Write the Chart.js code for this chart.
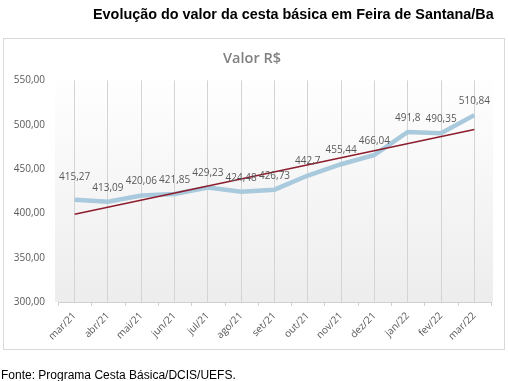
<!DOCTYPE html>
<html>
<head>
<meta charset="utf-8">
<script src="https://cdn.jsdelivr.net/npm/chart.js@4.4.1/dist/chart.umd.min.js"></script>
<style>
  html, body { margin: 0; padding: 0; background: #fff; }
  body { width: 508px; height: 381px; position: relative; overflow: hidden; }
  #title { position: absolute; left: 93px; top: 6px; font: bold 14.4px "Liberation Sans", Arial, sans-serif; color: #000; white-space: nowrap; }
  #box { position: absolute; left: 3px; top: 38px; width: 500px; height: 310px; border: 1px solid #d9d9d9; pointer-events: none; }
  #wrap { position: absolute; left: 0; top: 0; width: 508px; height: 381px; }
  #footer { position: absolute; left: 1px; top: 368px; font: 12px "Liberation Sans", Arial, sans-serif; color: #000; white-space: nowrap; }
</style>
</head>
<body>
<div id="wrap"><canvas id="c" width="508" height="381"></canvas></div>
<div id="box"></div>
<div id="title">Evolução do valor da cesta básica em Feira de Santana/Ba</div>
<div id="footer">Fonte: Programa Cesta Básica/DCIS/UEFS.</div>
<script>
const categories = ["mar/21","abr/21","mai/21","jun/21","jul/21","ago/21","set/21","out/21","nov/21","dez/21","jan/22","fev/22","mar/22"];
const values = [415.27, 413.09, 420.06, 421.85, 429.23, 424.48, 426.73, 442.7, 455.44, 466.04, 491.8, 490.35, 510.84];
const valueLabels = ["415,27","413,09","420,06","421,85","429,23","424,48","426,73","442,7","455,44","466,04","491,8","490,35","510,84"];
const trendEnds = [399.0, 494.6];
const yTicks = [300, 350, 400, 450, 500, 550];

const trendData = categories.map((c, i) => i === 0 ? trendEnds[0] : (i === categories.length - 1 ? trendEnds[1] : null));

const bgPlugin = {
  id: 'bg',
  beforeDraw(chart) {
    const ctx = chart.ctx, a = chart.chartArea;
    const g = ctx.createLinearGradient(0, a.top - 8, 0, a.bottom);
    g.addColorStop(0, '#ffffff');
    g.addColorStop(1, '#ededed');
    ctx.save();
    ctx.fillStyle = g;
    ctx.fillRect(a.left - 3, a.top - 8, a.right - a.left + 5, a.bottom - a.top + 8);
    ctx.restore();
  },
  afterDraw(chart) {
    const ctx = chart.ctx, a = chart.chartArea;
    const n = categories.length;
    ctx.save();
    ctx.strokeStyle = '#d0d0d0';
    ctx.lineWidth = 1;
    ctx.beginPath();
    for (let i = 0; i <= n; i++) {
      const x = Math.round(a.left + i * (a.right - a.left) / n) + 0.5;
      ctx.moveTo(x, a.bottom);
      ctx.lineTo(x, a.bottom + 4);
    }
    ctx.stroke();
    ctx.restore();
  }
};

const labelPlugin = {
  id: 'vlabels',
  afterDatasetsDraw(chart) {
    const ctx = chart.ctx;
    const meta = chart.getDatasetMeta(0);
    ctx.save();
    ctx.font = '10px "Open Sans", "Liberation Sans", sans-serif';
    ctx.fillStyle = '#595959';
    ctx.textAlign = 'center';
    ctx.textBaseline = 'middle';
    meta.data.forEach((p, i) => {
      const off = i === 0 ? 23 : 14;
      ctx.fillText(valueLabels[i], p.x, p.y - off);
    });
    ctx.restore();
  }
};

new Chart(document.getElementById('c'), {
  type: 'line',
  data: {
    labels: categories,
    datasets: [
      {
        data: values,
        borderColor: '#a9c9dc',
        borderWidth: 4.5,
        pointRadius: 0,
        tension: 0,
        fill: false,
        order: 2
      },
      {
        data: trendData,
        spanGaps: true,
        borderColor: '#8c1c2c',
        borderWidth: 1.3,
        pointRadius: 0,
        fill: false,
        order: 1
      }
    ]
  },
  options: {
    responsive: false,
    animation: false,
    devicePixelRatio: 1,
    layout: { padding: { left: 13, right: 17, top: 40, bottom: 0 } },
    plugins: {
      legend: { display: false },
      tooltip: { enabled: false },
      title: {
        display: true,
        text: 'Valor R$',
        color: '#808080',
        font: { family: '"Open Sans", sans-serif', size: 14.5, weight: '600' },
        padding: { top: 10, bottom: 13 }
      }
    },
    scales: {
      x: {
        offset: true,
        grid: { offset: false, color: '#d4d4d4', drawTicks: false },
        border: { display: true, color: '#d0d0d0' },
        ticks: {
          maxRotation: 45, minRotation: 45, padding: 8,
          color: '#595959',
          font: { family: '"Open Sans", sans-serif', size: 10 }
        },
        afterFit(s) { s.height = 79; }
      },
      y: {
        min: 300, max: 550,
        afterBuildTicks(s) { s.ticks = yTicks.map(v => ({ value: v })); },
        grid: { display: false, drawTicks: false },
        border: { display: false },
        ticks: {
          padding: 13,
          color: '#595959',
          font: { family: '"Open Sans", sans-serif', size: 10 },
          callback: v => v.toFixed(2).replace('.', ',')
        },
        afterFit(s) { s.width = 45; }
      }
    }
  },
  plugins: [bgPlugin, labelPlugin]
});
</script>
</body>
</html>
